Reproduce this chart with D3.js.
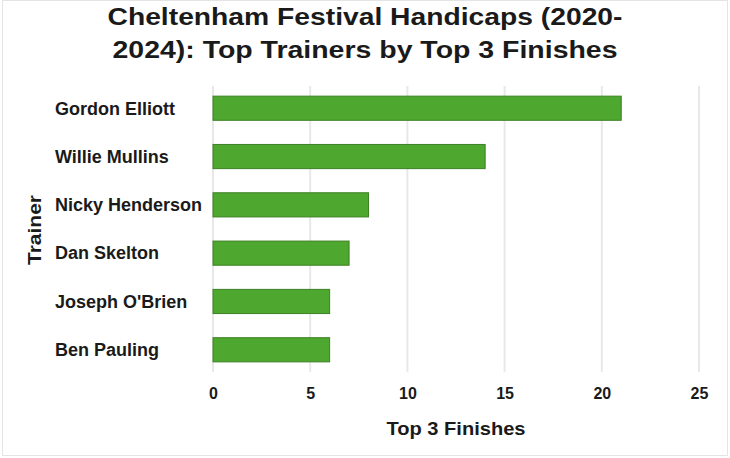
<!DOCTYPE html>
<html>
<head>
<meta charset="utf-8">
<script src="https://cdn.jsdelivr.net/npm/d3@7"></script>
<style>
  body { margin: 0; background: #fff; }
  text { font-family: "Liberation Sans", Arial, sans-serif; fill: #1a1a1a; }
</style>
</head>
<body>
<div id="chart"></div>
<script>
// values
const trainers = ["Gordon Elliott", "Willie Mullins", "Nicky Henderson", "Dan Skelton", "Joseph O'Brien", "Ben Pauling"];
const finishes = [21, 14, 8, 7, 6, 6];
const xTicks = [0, 5, 10, 15, 20, 25];

const data = trainers.map((t, i) => ({ trainer: t, value: finishes[i] }));

const width = 730,
    height = 458,
    margin = { top: 86, bottom: 86, left: 213, right: 31 };

const svg = d3.select("#chart")
    .append("svg")
    .attr("width", width)
    .attr("height", height);

// light frame round the picture
svg.append("rect")
    .attr("x", 2.5).attr("y", 0.5)
    .attr("width", width - 5).attr("height", height - 3)
    .attr("fill", "none")
    .attr("stroke", "#e4e4e4");

const xScale = d3.scaleLinear()
    .domain([0, 25])
    .range([margin.left, width - margin.right]);

const yScale = d3.scaleBand()
    .domain(trainers)
    .range([margin.top, height - margin.bottom])
    .paddingInner(0.5)
    .paddingOuter(0.21);

// grid
svg.append("g")
    .selectAll("line")
    .data(xTicks)
    .join("line")
    .attr("x1", d => xScale(d))
    .attr("x2", d => xScale(d))
    .attr("y1", margin.top)
    .attr("y2", height - margin.bottom)
    .attr("stroke", "#e8e8e8")
    .attr("stroke-width", 2);

// bars
svg.append("g")
    .selectAll("rect")
    .data(data)
    .join("rect")
    .attr("x", xScale(0))
    .attr("y", d => yScale(d.trainer))
    .attr("width", d => xScale(d.value) - xScale(0))
    .attr("height", yScale.bandwidth())
    .attr("fill", "#4ea72e")
    .attr("stroke", "#3d8024")
    .attr("stroke-width", 1);

// x axis (labels only)
const xAxis = d3.axisBottom(xScale).tickValues(xTicks).tickSize(0).tickPadding(0);
const gx = svg.append("g")
    .attr("transform", `translate(0, 388)`)
    .call(xAxis);
gx.select(".domain").remove();
gx.selectAll("text")
    .attr("font-size", 16)
    .attr("font-weight", "bold")
    .attr("fill", "#1a1a1a")
    .attr("font-family", "Liberation Sans, Arial, sans-serif");

// y labels, left aligned
svg.append("g")
    .selectAll("text")
    .data(data)
    .join("text")
    .attr("x", 55)
    .attr("y", d => yScale(d.trainer) + yScale.bandwidth() / 2)
    .attr("dy", "0.35em")
    .attr("font-size", 18)
    .attr("font-weight", "bold")
    .text(d => d.trainer);

// axis titles
svg.append("text")
    .attr("x", 456)
    .attr("y", 435)
    .attr("text-anchor", "middle")
    .attr("font-size", 19)
    .attr("font-weight", "bold")
    .attr("textLength", 139)
    .attr("lengthAdjust", "spacingAndGlyphs")
    .text("Top 3 Finishes");

svg.append("text")
    .attr("transform", "translate(41, 230) rotate(-90)")
    .attr("text-anchor", "middle")
    .attr("font-size", 19)
    .attr("font-weight", "bold")
    .attr("textLength", 70)
    .attr("lengthAdjust", "spacingAndGlyphs")
    .text("Trainer");

// title, two lines
const titleLines = ["Cheltenham Festival Handicaps (2020-", "2024): Top Trainers by Top 3 Finishes"];
svg.append("g")
    .selectAll("text")
    .data(titleLines)
    .join("text")
    .attr("x", 365)
    .attr("y", (d, i) => 25 + i * 33)
    .attr("text-anchor", "middle")
    .attr("font-size", 23)
    .attr("font-weight", "bold")
    .attr("textLength", (d, i) => i === 0 ? 515 : 505)
    .attr("lengthAdjust", "spacingAndGlyphs")
    .text(d => d);
</script>
</body>
</html>
